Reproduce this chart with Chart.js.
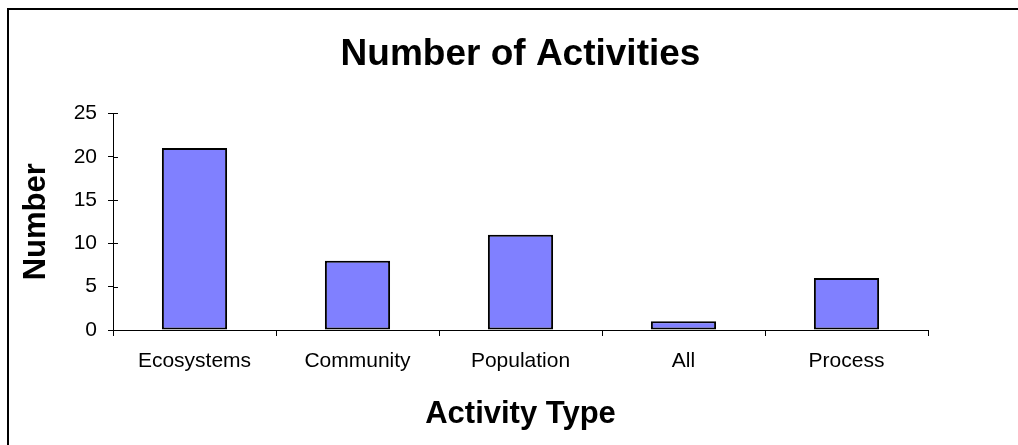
<!DOCTYPE html>
<html>
<head>
<meta charset="utf-8">
<script src="https://cdn.jsdelivr.net/npm/chart.js@4"></script>
<style>
  html, body { margin: 0; padding: 0; background: #fff; overflow: hidden; }
  #wrap { position: relative; width: 1018px; height: 445px; }
  #frame { position: absolute; left: 7px; top: 8px; width: 1100px; height: 600px; border: 2px solid #000; box-sizing: border-box; }
  canvas { position: absolute; left: 0; top: 0; }
</style>
</head>
<body>
<div id="wrap">
  <div id="frame"></div>
  <canvas id="chart" width="1018" height="445"></canvas>
</div>
<script>
// data
const categories = ['Ecosystems', 'Community', 'Population', 'All', 'Process'];
const activityCounts = [21, 8, 11, 1, 6];
const yTicks = [0, 5, 10, 15, 20, 25];

const FONT = 'Arial, "Liberation Sans", sans-serif';

// ticks on y axis cross the axis line - draw the inner half
const innerTicks = {
  id: 'innerTicks',
  afterDraw(chart) {
    const y = chart.scales.y;
    const ctx = chart.ctx;
    ctx.save();
    ctx.strokeStyle = '#000';
    ctx.lineWidth = 1;
    ctx.beginPath();
    y.ticks.forEach(t => {
      const py = Math.round(y.getPixelForValue(t.value)) + 0.5;
      ctx.moveTo(chart.chartArea.left, py);
      ctx.lineTo(chart.chartArea.left + 5, py);
    });
    ctx.stroke();
    ctx.restore();
  }
};

new Chart(document.getElementById('chart'), {
  type: 'bar',
  data: {
    labels: categories,
    datasets: [{
      data: activityCounts,
      backgroundColor: '#8080FF',
      borderColor: '#000',
      borderWidth: 2,
      borderSkipped: false,
      categoryPercentage: 1,
      barPercentage: 0.4
    }]
  },
  options: {
    responsive: false,
    animation: false,
    layout: { padding: { left: 10, right: 90, top: 10, bottom: 12 } },
    plugins: {
      legend: { display: false },
      tooltip: { enabled: false },
      title: {
        display: true,
        fullSize: false,
        text: 'Number of Activities',
        color: '#000',
        font: { family: FONT, size: 37, weight: 'bold' },
        padding: { top: 23, bottom: 36 }
      }
    },
    scales: {
      x: {
        afterFit: s => { s.height = 103; },
        grid: { offset: true, drawOnChartArea: false, drawTicks: true, tickLength: 6, color: '#000' },
        border: { color: '#000', width: 1 },
        ticks: { color: '#000', font: { family: FONT, size: 21 }, padding: 13, maxRotation: 0 },
        title: {
          display: true,
          text: 'Activity Type',
          color: '#000',
          font: { family: FONT, size: 31, weight: 'bold' },
          padding: { top: 0, bottom: 0 }
        }
      },
      y: {
        min: 0,
        max: 25,
        afterFit: s => { s.width = 103; },
        afterBuildTicks: s => { s.ticks = yTicks.map(v => ({ value: v })); },
        grid: { drawOnChartArea: false, drawTicks: true, tickLength: 5, color: '#000' },
        border: { color: '#000', width: 1 },
        ticks: { color: '#000', font: { family: FONT, size: 21 }, padding: 11 },
        title: {
          display: true,
          text: 'Number',
          color: '#000',
          font: { family: FONT, size: 31, weight: 'bold' },
          padding: { top: 8, bottom: 0 }
        }
      }
    }
  },
  plugins: [innerTicks]
});
</script>
</body>
</html>
